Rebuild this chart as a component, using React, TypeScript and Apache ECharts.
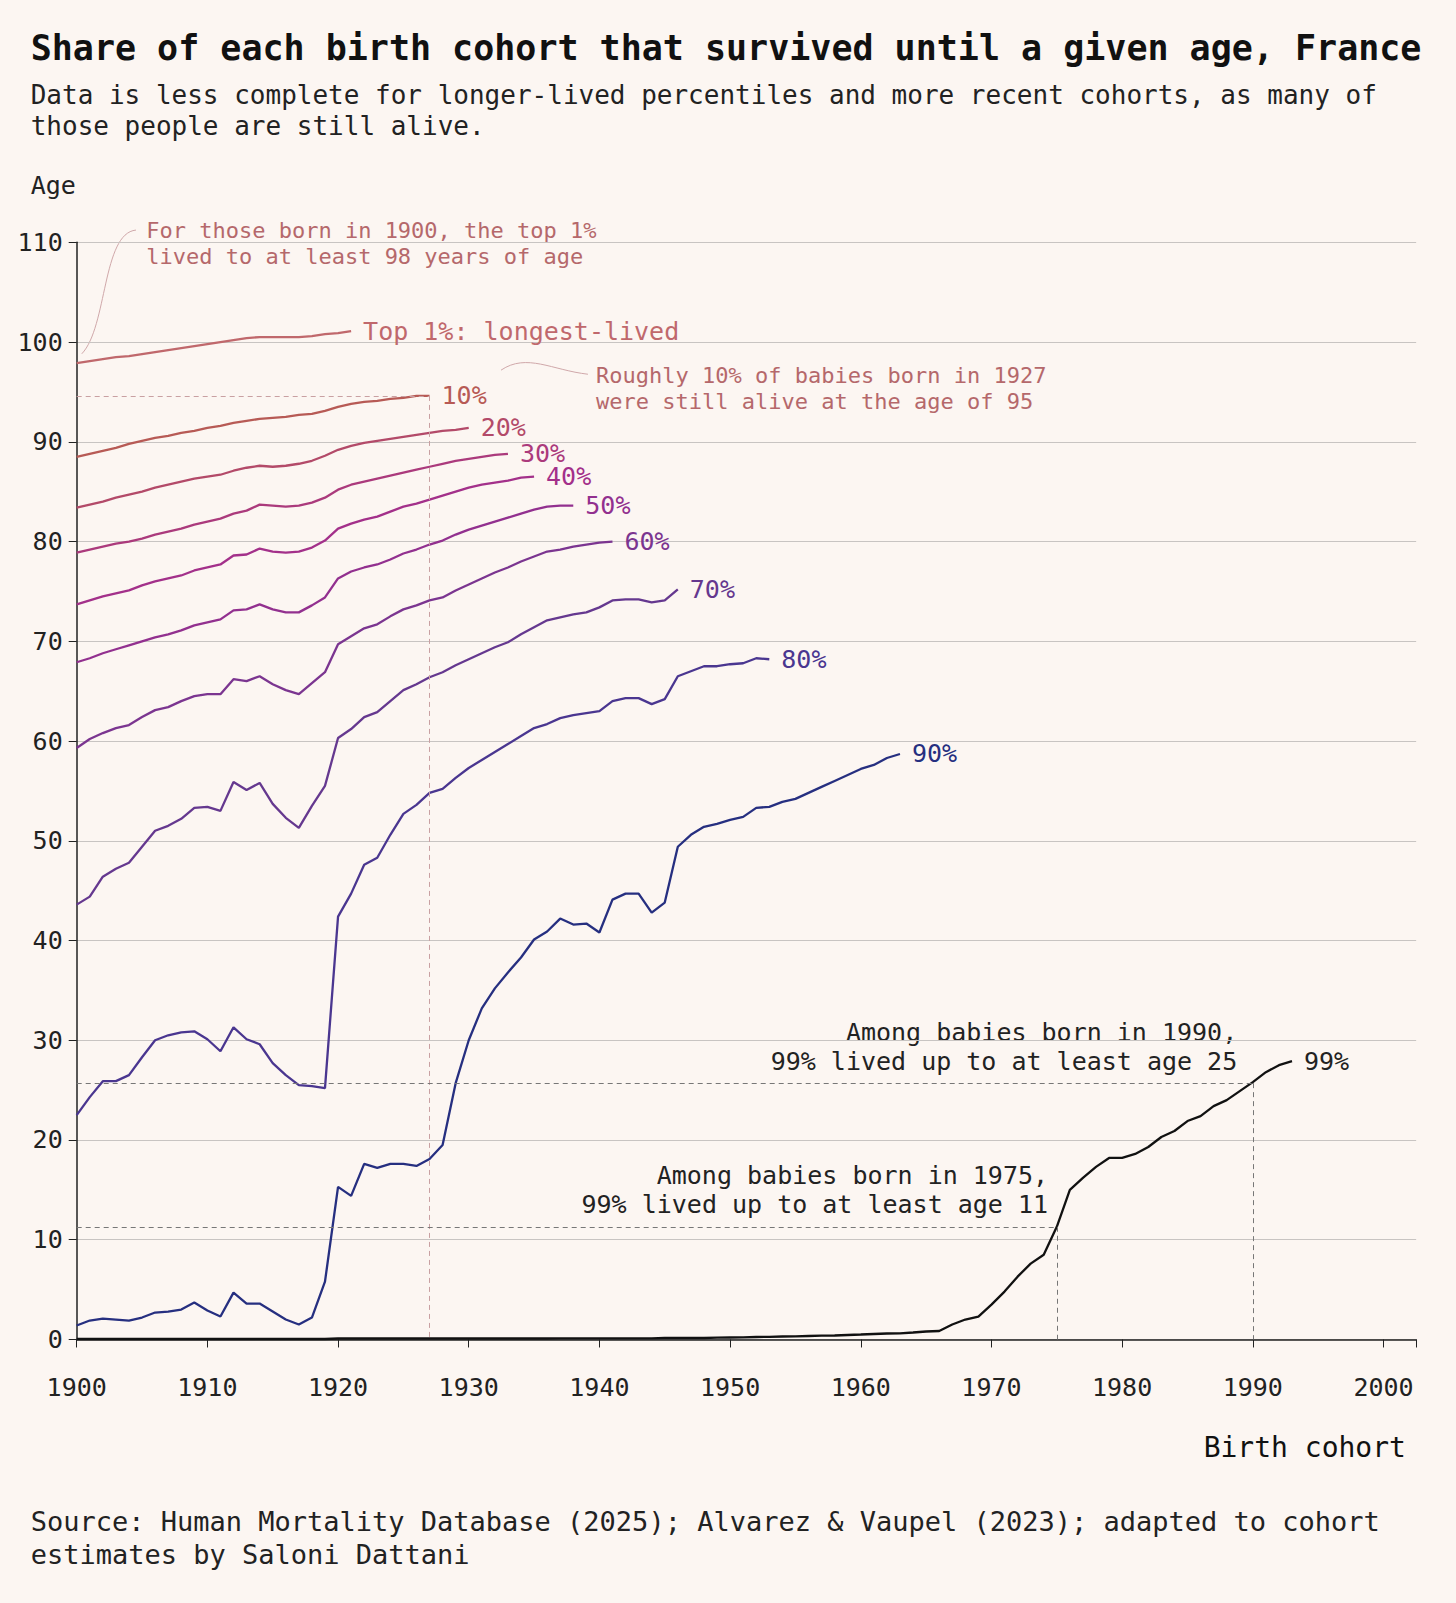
import React, { useEffect, useRef } from 'react';
import * as echarts from 'echarts';

// every series starts at the 1900 cohort, one value per birth year
const startYear = 1900;
const top1 = [97.9, 98.1, 98.3, 98.5, 98.6, 98.8, 99.0, 99.2, 99.4, 99.6, 99.8, 100.0, 100.2, 100.4, 100.5, 100.5, 100.5, 100.5, 100.6, 100.8, 100.9, 101.1];
const p10 = [88.5, 88.8, 89.1, 89.4, 89.8, 90.1, 90.4, 90.6, 90.9, 91.1, 91.4, 91.6, 91.9, 92.1, 92.3, 92.4, 92.5, 92.7, 92.8, 93.1, 93.5, 93.8, 94.0, 94.1, 94.3, 94.4, 94.6, 94.6];
const p20 = [83.4, 83.7, 84.0, 84.4, 84.7, 85.0, 85.4, 85.7, 86.0, 86.3, 86.5, 86.7, 87.1, 87.4, 87.6, 87.5, 87.6, 87.8, 88.1, 88.6, 89.2, 89.6, 89.9, 90.1, 90.3, 90.5, 90.7, 90.9, 91.1, 91.2, 91.4];
const p30 = [78.9, 79.2, 79.5, 79.8, 80.0, 80.3, 80.7, 81.0, 81.3, 81.7, 82.0, 82.3, 82.8, 83.1, 83.7, 83.6, 83.5, 83.6, 83.9, 84.4, 85.2, 85.7, 86.0, 86.3, 86.6, 86.9, 87.2, 87.5, 87.8, 88.1, 88.3, 88.5, 88.7, 88.8];
const p40 = [73.7, 74.1, 74.5, 74.8, 75.1, 75.6, 76.0, 76.3, 76.6, 77.1, 77.4, 77.7, 78.6, 78.7, 79.3, 79.0, 78.9, 79.0, 79.4, 80.1, 81.3, 81.8, 82.2, 82.5, 83.0, 83.5, 83.8, 84.2, 84.6, 85.0, 85.4, 85.7, 85.9, 86.1, 86.4, 86.5];
const p50 = [67.9, 68.3, 68.8, 69.2, 69.6, 70.0, 70.4, 70.7, 71.1, 71.6, 71.9, 72.2, 73.1, 73.2, 73.7, 73.2, 72.9, 72.9, 73.6, 74.4, 76.3, 77.0, 77.4, 77.7, 78.2, 78.8, 79.2, 79.7, 80.1, 80.7, 81.2, 81.6, 82.0, 82.4, 82.8, 83.2, 83.5, 83.6, 83.6];
const p60 = [59.3, 60.2, 60.8, 61.3, 61.6, 62.4, 63.1, 63.4, 64.0, 64.5, 64.7, 64.7, 66.2, 66.0, 66.5, 65.7, 65.1, 64.7, 65.8, 66.9, 69.7, 70.5, 71.3, 71.7, 72.5, 73.2, 73.6, 74.1, 74.4, 75.1, 75.7, 76.3, 76.9, 77.4, 78.0, 78.5, 79.0, 79.2, 79.5, 79.7, 79.9, 80.0];
const p70 = [43.6, 44.4, 46.4, 47.2, 47.8, 49.4, 51.0, 51.5, 52.2, 53.3, 53.4, 53.0, 55.9, 55.1, 55.8, 53.7, 52.3, 51.3, 53.5, 55.5, 60.3, 61.2, 62.4, 62.9, 64.0, 65.1, 65.7, 66.4, 66.9, 67.6, 68.2, 68.8, 69.4, 69.9, 70.7, 71.4, 72.1, 72.4, 72.7, 72.9, 73.4, 74.1, 74.2, 74.2, 73.9, 74.1, 75.2];
const p80 = [22.5, 24.3, 25.9, 25.9, 26.5, 28.3, 30.0, 30.5, 30.8, 30.9, 30.1, 28.9, 31.3, 30.1, 29.6, 27.7, 26.5, 25.5, 25.4, 25.2, 42.4, 44.7, 47.6, 48.3, 50.6, 52.7, 53.6, 54.8, 55.2, 56.3, 57.3, 58.1, 58.9, 59.7, 60.5, 61.3, 61.7, 62.3, 62.6, 62.8, 63.0, 64.0, 64.3, 64.3, 63.7, 64.2, 66.5, 67.0, 67.5, 67.5, 67.7, 67.8, 68.3, 68.2];
const p90 = [1.4, 1.9, 2.1, 2.0, 1.9, 2.2, 2.7, 2.8, 3.0, 3.7, 2.9, 2.3, 4.7, 3.6, 3.6, 2.8, 2.0, 1.5, 2.2, 5.8, 15.3, 14.4, 17.6, 17.2, 17.6, 17.6, 17.4, 18.1, 19.5, 25.7, 30.0, 33.2, 35.2, 36.8, 38.3, 40.1, 40.9, 42.2, 41.6, 41.7, 40.8, 44.1, 44.7, 44.7, 42.8, 43.8, 49.4, 50.6, 51.4, 51.7, 52.1, 52.4, 53.3, 53.4, 53.9, 54.2, 54.8, 55.4, 56.0, 56.6, 57.2, 57.6, 58.3, 58.7];
const p99 = [0.05, 0.05, 0.05, 0.05, 0.05, 0.05, 0.05, 0.05, 0.05, 0.05, 0.05, 0.05, 0.05, 0.05, 0.05, 0.05, 0.05, 0.05, 0.05, 0.05,
  0.1, 0.1, 0.1, 0.1, 0.1, 0.1, 0.1, 0.1, 0.1, 0.1, 0.1, 0.1, 0.1, 0.1, 0.1, 0.1, 0.1, 0.12, 0.12, 0.12, 0.12, 0.12, 0.12, 0.12, 0.12, 0.15, 0.15, 0.15, 0.15, 0.18,
  0.2, 0.22, 0.25, 0.27, 0.3, 0.32, 0.35, 0.38, 0.4, 0.45, 0.5, 0.55, 0.6, 0.62, 0.7, 0.8, 0.85,
  1.5, 2.0, 2.3, 3.5, 4.8, 6.3, 7.6, 8.5, 11.3, 15.0, 16.2, 17.3, 18.2, 18.2, 18.6, 19.3, 20.3, 20.9, 21.9, 22.4, 23.4, 24.0, 24.9, 25.8, 26.8, 27.5, 27.9];

const seriesNames = ['Top 1%: longest-lived', '10%', '20%', '30%', '40%', '50%', '60%', '70%', '80%', '90%', '99%'];
const seriesValues = [top1, p10, p20, p30, p40, p50, p60, p70, p80, p90, p99];
const seriesColors = ['#c0686c', '#b75a55', '#b34a69', '#ab3a7c', '#a3308a', '#92308f', '#7b3590', '#65388f', '#4a3690', '#262f80', '#111111'];
const yTicks = [0, 10, 20, 30, 40, 50, 60, 70, 80, 90, 100, 110];

const FONT = '"DejaVu Sans Mono", monospace';
const BG = '#fcf6f2';
const ANN = '#b5686b';
const s = (v: number) => v * 1.0225 - 8;

const App = () => {
  const chartRef = useRef<HTMLDivElement>(null);

  useEffect(() => {
    document.body.style.background = BG;
    const chart = echarts.init(chartRef.current!, null, { renderer: 'svg' });

    const series: any[] = seriesValues.map((vals, i) => ({
      name: seriesNames[i],
      type: 'line',
      data: vals.map((v, j) => [startYear + j, v]),
      showSymbol: false,
      lineStyle: { color: seriesColors[i], width: 2.3 },
      itemStyle: { color: seriesColors[i] },
      z: 3,
      endLabel: {
        show: true,
        formatter: seriesNames[i],
        color: seriesColors[i] === '#111111' ? '#222' : seriesColors[i],
        fontFamily: FONT,
        fontSize: 25,
        distance: 12,
      },
    }));

    // reference lines for the annotated cohorts
    series[1].markLine = {
      silent: true, symbol: 'none', label: { show: false },
      lineStyle: { color: '#c9a0a2', type: [5, 4], width: 1 },
      data: [
        [{ coord: [1900, 94.6] }, { coord: [1927, 94.6] }],
        [{ coord: [1927, 94.6] }, { coord: [1927, 0] }],
      ],
    };
    series[10].markLine = {
      silent: true, symbol: 'none', label: { show: false },
      lineStyle: { color: '#777', type: [5, 4], width: 1 },
      data: [
        [{ coord: [1900, 25.7] }, { coord: [1990, 25.7] }],
        [{ coord: [1990, 25.7] }, { coord: [1990, 0] }],
        [{ coord: [1900, 11.3] }, { coord: [1975, 11.3] }],
        [{ coord: [1975, 11.3] }, { coord: [1975, 0] }],
      ],
    };

    const txt = (x: number, y: number, text: string, size: number, color: string, extra: any = {}) => ({
      type: 'text', x: s(x), y: s(y),
      style: { text, fontFamily: FONT, fontSize: size, fill: color, lineHeight: size * 1.15, ...extra },
    });

    chart.setOption({
      animation: false,
      backgroundColor: BG,
      grid: { left: s(75), right: 1440 - s(1385), top: s(237), bottom: 1587 - s(1310) },
      xAxis: {
        type: 'value', min: 1900, max: 2002.5, interval: 10,
        axisLine: { show: true, lineStyle: { color: '#222', width: 1.5 } },
        axisTick: { show: true, length: 8, lineStyle: { color: '#222' } },
        axisLabel: {
          fontFamily: FONT, fontSize: 25, color: '#222', margin: 36,
          formatter: (v: number) => (v % 10 === 0 ? String(v) : ''),
        },
        splitLine: { show: false },
      },
      yAxis: {
        type: 'value', min: yTicks[0], max: yTicks[yTicks.length - 1], interval: 10,
        axisLine: { show: true, lineStyle: { color: '#222', width: 1.5 } },
        axisTick: { show: true, length: 8, lineStyle: { color: '#222' } },
        axisLabel: { fontFamily: FONT, fontSize: 25, color: '#222', margin: 14 },
        splitLine: { show: true, lineStyle: { color: '#c8c4c2', width: 1 } },
      },
      series,
      graphic: [
        txt(30, 27, 'Share of each birth cohort that survived until a given age, France', 35, '#111', { fontWeight: 'bold' }),
        txt(30, 78, 'Data is less complete for longer-lived percentiles and more recent cohorts, as many of\nthose people are still alive.', 26, '#222', { lineHeight: 31 }),
        txt(30, 167, 'Age', 25, '#222'),
        txt(1375, 1400, 'Birth cohort', 28, '#111', { align: 'right' }),
        txt(30, 1472, 'Source: Human Mortality Database (2025); Alvarez & Vaupel (2023); adapted to cohort\nestimates by Saloni Dattani', 27, '#222', { lineHeight: 33 }),
        txt(143, 213, 'For those born in 1900, the top 1%\nlived to at least 98 years of age', 22, ANN, { lineHeight: 26 }),
        txt(583, 355, 'Roughly 10% of babies born in 1927\nwere still alive at the age of 95', 22, ANN, { lineHeight: 26 }),
        txt(1210, 996, 'Among babies born in 1990,\n99% lived up to at least age 25', 25, '#222', { align: 'right', lineHeight: 29 }),
        txt(1025, 1135, 'Among babies born in 1975,\n99% lived up to at least age 11', 25, '#222', { align: 'right', lineHeight: 29 }),
        {
          type: 'bezierCurve',
          shape: { x1: s(80), y1: s(346), cpx1: s(105), cpy1: s(320), cpx2: s(100), cpy2: s(228), x2: s(133), y2: s(225) },
          style: { stroke: '#d0a8aa', lineWidth: 1, fill: null },
        },
        {
          type: 'bezierCurve',
          shape: { x1: s(490), y1: s(362), cpx1: s(515), cpy1: s(345), cpx2: s(540), cpy2: s(362), x2: s(575), y2: s(366) },
          style: { stroke: '#d0a8aa', lineWidth: 1, fill: null },
        },
      ],
    });

    return () => {
      chart.dispose();
    };
  }, []);

  return <div style={{ width: '1440px', height: '1587px' }} ref={chartRef}></div>;
};

export default App;
